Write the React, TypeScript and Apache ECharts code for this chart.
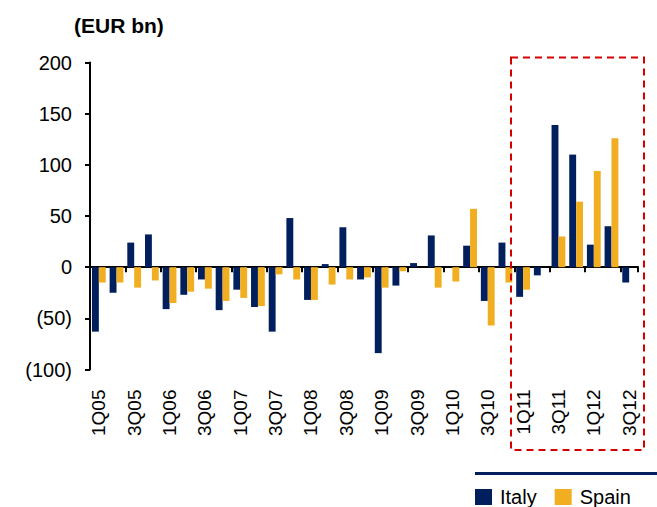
import React, { useEffect, useRef } from "react";
import * as echarts from "echarts";

const quarters = [
  "1Q05", "2Q05", "3Q05", "4Q05",
  "1Q06", "2Q06", "3Q06", "4Q06",
  "1Q07", "2Q07", "3Q07", "4Q07",
  "1Q08", "2Q08", "3Q08", "4Q08",
  "1Q09", "2Q09", "3Q09", "4Q09",
  "1Q10", "2Q10", "3Q10", "4Q10",
  "1Q11", "2Q11", "3Q11", "4Q11",
  "1Q12", "2Q12", "3Q12",
];

const italy = [
  -63, -25, 24, 32, -41, -27, -12, -42, -22, -39, -63, 48, -32, 3, 39, -12,
  -84, -18, 4, 31, 0, 21, -33, 24, -29, -8, 139, 110, 22, 40, -15,
];

const spain = [
  -15, -15, -20, -13, -35, -24, -21, -33, -30, -38, -7, -12, -32, -17, -12, -10,
  -20, -4, 0, -20, -14, 57, -57, -15, -22, 0, 30, 64, 94, 126, 0,
];

const yTicks = { min: -100, max: 200, interval: 50 };

const NAVY = "#001f5c";
const GOLD = "#f0ae20";
const FONT = "Arial, 'Liberation Sans', sans-serif";

export default function App() {
  const ref = useRef<HTMLDivElement>(null);

  useEffect(() => {
    if (!ref.current) return;
    const chart = echarts.init(ref.current, undefined, { renderer: "svg" });
    const option: any = {
      animation: false,
      backgroundColor: "#ffffff",
      textStyle: { fontFamily: FONT },
      title: {
        text: "(EUR bn)",
        left: 69,
        top: 10,
        textStyle: { fontSize: 21, fontWeight: "bold", color: "#000", fontFamily: FONT },
      },
      legend: {
        left: 475,
        top: 487,
        padding: 0,
        itemWidth: 17,
        itemHeight: 16,
        itemGap: 18,
        icon: "rect",
        textStyle: { fontSize: 20, color: "#000", fontFamily: FONT, padding: [0, 0, 0, 3] },
        data: ["Italy", "Spain"],
      },
      grid: { left: 90, right: 19, top: 62.5, bottom: 137.5, containLabel: false },
      xAxis: [
        {
          type: "category",
          data: quarters,
          position: "bottom",
          axisLine: { show: false, onZero: false },
          axisTick: { show: false },
          axisLabel: {
            rotate: 90,
            interval: 1,
            margin: 20,
            fontSize: 19,
            color: "#000",
            fontFamily: FONT,
          },
        },
        {
          type: "category",
          data: quarters,
          position: "bottom",
          axisLine: { show: true, onZero: true, lineStyle: { color: "#000", width: 2 } },
          axisTick: { show: true, interval: 1, length: 5, lineStyle: { color: "#000", width: 2 } },
          axisLabel: { show: false },
        },
      ],
      yAxis: {
        type: "value",
        min: yTicks.min,
        max: yTicks.max,
        interval: yTicks.interval,
        splitLine: { show: false },
        axisLine: { show: true, onZero: false, lineStyle: { color: "#000", width: 2 } },
        axisTick: { show: true, length: 5, lineStyle: { color: "#000", width: 2 } },
        axisLabel: {
          fontSize: 20,
          color: "#000",
          margin: 18,
          fontFamily: FONT,
          formatter: (v: number) => (v < 0 ? `(${-v})` : `${v}`),
        },
      },
      series: [
        {
          name: "Italy",
          type: "bar",
          xAxisIndex: 0,
          data: italy,
          barGap: "0%",
          barCategoryGap: "22%",
          itemStyle: { color: NAVY },
        },
        {
          name: "Spain",
          type: "bar",
          xAxisIndex: 0,
          data: spain,
          barGap: "0%",
          barCategoryGap: "22%",
          itemStyle: { color: GOLD },
        },
      ],
      graphic: [
        {
          type: "rect",
          z: 100,
          shape: { x: 511, y: 57.5, width: 133, height: 392.5 },
          style: { fill: "none", stroke: "#d40000", lineWidth: 2, lineDash: [7, 5] },
        },
        {
          type: "line",
          z: 100,
          shape: { x1: 475, y1: 473.5, x2: 657, y2: 473.5 },
          style: { stroke: NAVY, lineWidth: 3 },
        },
      ],
    };
    chart.setOption(option);
    return () => chart.dispose();
  }, []);

  return <div ref={ref} style={{ width: 657, height: 507, position: "absolute", left: 0, top: 0 }} />;
}
